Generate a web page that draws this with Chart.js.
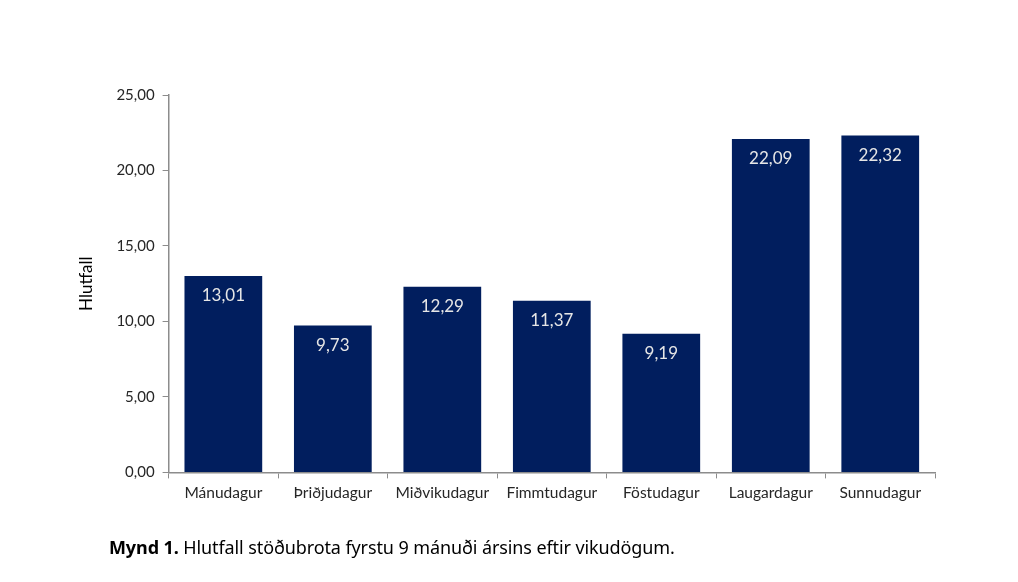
<!DOCTYPE html>
<html lang="is">
<head>
    <meta charset="UTF-8">
    <title>Mynd 1</title>
    <style>
        html, body { margin: 0; padding: 0; background: #fff; }
        .wrap { position: relative; width: 1018px; height: 582px; }
        #myChart { position: absolute; left: 0; top: 0; }
        .caption {
            position: absolute;
            left: 109px;
            top: 535px;
            font-family: "Noto Sans", sans-serif;
            font-size: 18px;
            color: #000;
            letter-spacing: -0.1px;
        }
        .caption b { font-weight: 700; }
    </style>
</head>
<body>
    <div class="wrap">
        <canvas id="myChart" width="1018" height="582"></canvas>
        <div class="caption"><b>Mynd 1.</b> Hlutfall stöðubrota fyrstu 9 mánuði ársins eftir vikudögum.</div>
    </div>
    <script src="https://cdn.jsdelivr.net/npm/chart.js@4/dist/chart.umd.min.js"></script>
    <script>
        // vikudagar
        const days = ["Mánudagur", "Þriðjudagur", "Miðvikudagur", "Fimmtudagur", "Föstudagur", "Laugardagur", "Sunnudagur"];
        // hlutfall stöðubrota
        const share = [13.01, 9.73, 12.29, 11.37, 9.19, 22.09, 22.32];
        const yTicks = [0, 5, 10, 15, 20, 25];

        const fmt = v => v.toFixed(2).replace(".", ",");
        const fontFam = "Lato, 'Open Sans', sans-serif";

        // gildi inni í súlunum
        const barLabels = {
            id: "barLabels",
            afterDatasetsDraw(chart) {
                const ctx = chart.ctx;
                const meta = chart.getDatasetMeta(0);
                ctx.save();
                ctx.fillStyle = "#e6e6e6";
                ctx.font = "17px " + fontFam;
                ctx.textAlign = "center";
                ctx.textBaseline = "middle";
                meta.data.forEach((bar, i) => {
                    ctx.fillText(fmt(share[i]), bar.x, bar.y + 20);
                });
                ctx.restore();
            }
        };

        const myChart = document.getElementById("myChart");
        new Chart(myChart, {
            type: "bar",
            data: {
                labels: days,
                datasets: [{
                    label: "Hlutfall",
                    data: share,
                    backgroundColor: "#011E5E",
                    borderWidth: 0,
                    categoryPercentage: 1,
                    barPercentage: 0.71
                }]
            },
            options: {
                responsive: false,
                animation: false,
                layout: { padding: { left: 76, right: 83, top: 95, bottom: 75 } },
                plugins: {
                    legend: { display: false },
                    tooltip: { enabled: false }
                },
                scales: {
                    x: {
                        grid: {
                            offset: true,
                            drawOnChartArea: false,
                            drawTicks: true,
                            tickLength: 6,
                            color: "#8c8c8c"
                        },
                        border: { color: "#8c8c8c", width: 1.5 },
                        ticks: {
                            color: "#262626",
                            font: { family: fontFam, size: 15.5 },
                            padding: 5,
                            maxRotation: 0
                        }
                    },
                    y: {
                        min: 0,
                        max: 25,
                        afterBuildTicks: axis => { axis.ticks = yTicks.map(v => ({ value: v })); },
                        grid: {
                            drawOnChartArea: false,
                            drawTicks: true,
                            tickLength: 6,
                            color: "#8c8c8c"
                        },
                        border: { color: "#8c8c8c", width: 1.5 },
                        ticks: {
                            color: "#262626",
                            font: { family: fontFam, size: 15 },
                            padding: 8,
                            callback: v => fmt(v)
                        },
                        title: {
                            display: true,
                            text: "Hlutfall",
                            color: "#000",
                            font: { family: fontFam, size: 17 },
                            padding: { top: 0, bottom: 12 }
                        }
                    }
                }
            },
            plugins: [barLabels]
        });
    </script>
</body>
</html>
